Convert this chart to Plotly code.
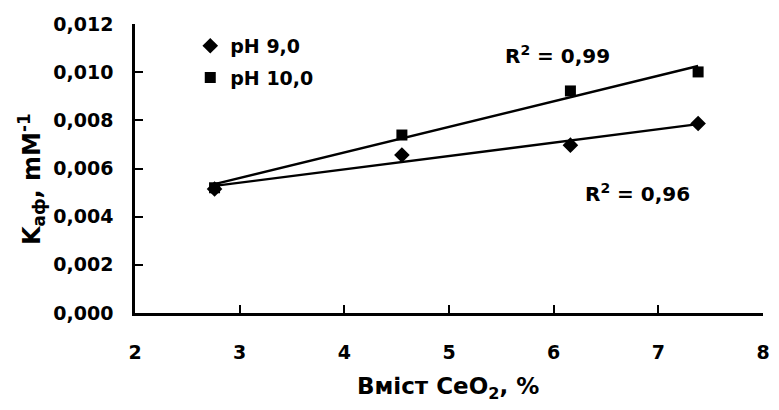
import numpy as np
import plotly.graph_objects as go

# CeO2 content, % and apparent adsorption constants, mM^-1
ceo2 = [2.76, 4.55, 6.16, 7.38]
k_ph9 = [0.00515, 0.00656, 0.00697, 0.00787]
k_ph10 = [0.00520, 0.00739, 0.00922, 0.01001]

series_names = ["pH 9,0", "pH 10,0"]
r2_labels = ["R<sup>2</sup> = 0,96", "R<sup>2</sup> = 0,99"]

FONT = "DejaVu Sans, Arial, sans-serif"

fig = go.Figure()

x = np.array(ceo2)
for vals, name, symbol, size, grp in [
    (k_ph9, series_names[0], "diamond", 12, "a"),
    (k_ph10, series_names[1], "square", 11, "b"),
]:
    # linear trend over the measured range
    slope, intercept = np.polyfit(x, np.array(vals), 1)
    xs = np.array([x.min(), x.max()])
    fig.add_trace(go.Scatter(
        x=xs, y=slope * xs + intercept, mode="lines",
        line=dict(color="black", width=2.4), showlegend=False,
        hoverinfo="skip",
    ))
    fig.add_trace(go.Scatter(
        x=ceo2, y=vals, mode="markers", name=name, legendgroup=grp,
        marker=dict(symbol=symbol, size=size, color="black",
                    line=dict(width=0)),
    ))

bold = lambda s: dict(family=FONT, size=s, color="black", weight="bold")

# R^2 labels next to each trend line
fig.add_annotation(x=6.80, y=0.00497, text=r2_labels[0], showarrow=False,
                   font=bold(20))
fig.add_annotation(x=6.04, y=0.0107, text=r2_labels[1], showarrow=False,
                   font=bold(20))

# axis titles
fig.add_annotation(xref="paper", yref="paper", x=0.499, y=-0.26,
                   text="Вміст CeO<sub>2</sub>, %", showarrow=False,
                   xanchor="center", yanchor="middle", font=bold(23))
fig.add_annotation(xref="paper", yref="paper", x=-0.165, y=0.465,
                   text="K<sub>аф</sub>, mM<sup>-1</sup>", showarrow=False,
                   textangle=-90, xanchor="center", yanchor="middle",
                   font=bold(24))

axis_common = dict(
    showline=True, linecolor="black", linewidth=2.5,
    ticks="inside", ticklen=8, tickwidth=2, tickcolor="black",
    showgrid=False, zeroline=False,
    tickfont=bold(19),
)

fig.update_xaxes(range=[2, 8], dtick=1, tick0=2, ticklabelstandoff=20,
                 **axis_common)
fig.update_yaxes(range=[0, 0.012], dtick=0.002, tickformat=".3f",
                 ticklabelstandoff=15, **axis_common)

fig.update_layout(
    width=779, height=410,
    margin=dict(l=135, r=9, t=24, b=97),
    plot_bgcolor="white", paper_bgcolor="white",
    separators=", ",
    legend=dict(x=0.088, y=0.99, xanchor="left", yanchor="top",
                bgcolor="rgba(0,0,0,0)", tracegroupgap=4,
                font=bold(19)),
)

fig.write_html("out.html")
